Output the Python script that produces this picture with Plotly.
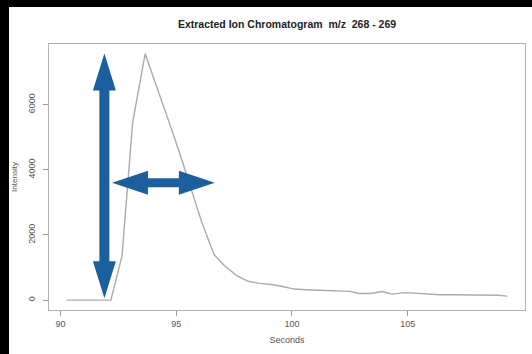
import plotly.graph_objects as go

# ---- data ----
seconds = [90.27, 92.18, 92.66, 93.12, 93.66, 94.2, 94.7, 95.2, 95.65, 96.1, 96.64,
           97.1, 97.6, 98.1, 98.6, 99.1, 99.6, 100.1, 100.6, 101.1, 101.6, 102.1,
           102.5, 102.9, 103.4, 103.9, 104.3, 104.9, 105.4, 105.9, 106.4, 106.9,
           107.4, 107.9, 108.4, 108.9, 109.3]
intensity = [0, 0, 1350, 5450, 7560, 6480, 5450, 4400, 3380, 2400, 1390,
             1050, 760, 580, 515, 480, 420, 340, 320, 305, 295, 285,
             270, 206, 206, 265, 185, 230, 210, 180, 165, 165,
             165, 160, 160, 150, 124]

x_ticks = [90, 95, 100, 105]
y_ticks = [0, 2000, 4000, 6000]

title_text = "Extracted Ion Chromatogram  m/z  268 - 269"
x_title = "Seconds"
y_title = "Intensity"

# annotation arrows (data units for ends)
v_arrow = dict(x0=91.9, y0=60, x1=91.9, y1=7570)
h_arrow = dict(x0=92.23, y0=3600, x1=96.67, y1=3600)

# ---- layout geometry ----
W, H = 532, 354
ML, MR, MT, MB = 49, 7, 44, 44
PW, PH = W - ML - MR, H - MT - MB
x_pad = 0.04 * (max(seconds) - min(seconds))
y_pad = 0.04 * (max(intensity) - min(intensity))
XR = [min(seconds) - x_pad, max(seconds) + x_pad]
YR = [min(intensity) - y_pad, max(intensity) + y_pad]

def to_px(x, y):
    return ((x - XR[0]) / (XR[1] - XR[0]) * PW, (y - YR[0]) / (YR[1] - YR[0]) * PH)

def to_data(px, py):
    return (XR[0] + px / PW * (XR[1] - XR[0]), YR[0] + py / PH * (YR[1] - YR[0]))

def double_arrow(a, head_len=37, head_half=11.5, shaft_half=5):
    p0 = to_px(a["x0"], a["y0"])
    p1 = to_px(a["x1"], a["y1"])
    dx, dy = p1[0] - p0[0], p1[1] - p0[1]
    L = (dx ** 2 + dy ** 2) ** 0.5
    ux, uy = dx / L, dy / L
    nx, ny = -uy, ux
    def pt(s, t):
        return to_data(p0[0] + ux * s + nx * t, p0[1] + uy * s + ny * t)
    pts = [pt(0, 0), pt(head_len, head_half), pt(head_len, shaft_half),
           pt(L - head_len, shaft_half), pt(L - head_len, head_half), pt(L, 0),
           pt(L - head_len, -head_half), pt(L - head_len, -shaft_half),
           pt(head_len, -shaft_half), pt(head_len, -head_half)]
    return "M " + " L ".join(f"{x:.5f},{y:.3f}" for x, y in pts) + " Z"

ARROW_COLOR = "#1c5f9f"
FONT = "Liberation Sans, Arial, sans-serif"

fig = go.Figure()
fig.add_trace(go.Scatter(x=seconds, y=intensity, mode="lines",
                         line=dict(color="#ababab", width=1.4), hoverinfo="skip"))

shapes = [
    dict(type="path", xref="x", yref="y", path=double_arrow(v_arrow, 37, 11.5, 5),
         fillcolor=ARROW_COLOR, line=dict(width=0), layer="above"),
    dict(type="path", xref="x", yref="y", path=double_arrow(h_arrow, 36, 12, 4.5),
         fillcolor=ARROW_COLOR, line=dict(width=0), layer="above"),
    # black frame of the photograph (top and left)
    dict(type="rect", xref="paper", yref="paper", x0=-ML / PW, x1=(9 - ML) / PW,
         y0=-MB / PH, y1=(H - MB) / PH, fillcolor="black", line=dict(width=0)),
    dict(type="rect", xref="paper", yref="paper", x0=-ML / PW, x1=1 + MR / PW,
         y0=(PH + MT - 7) / PH, y1=(H - MB) / PH, fillcolor="black", line=dict(width=0)),
]

axis_common = dict(showline=True, linecolor="#b3b3b3", linewidth=1.2, mirror=True,
                   ticks="outside", ticklen=5, tickcolor="#9a9a9a", tickwidth=1,
                   showgrid=False, zeroline=False, automargin=False,
                   tickfont=dict(family=FONT, size=9, color="#555"))

fig.update_layout(
    width=W, height=H,
    margin=dict(l=ML, r=MR, t=MT, b=MB, autoexpand=False),
    paper_bgcolor="white", plot_bgcolor="white",
    showlegend=False,
    shapes=shapes,
    title=dict(text=f"<b>{title_text}</b>", x=(287 - ML) / PW, xref="paper", xanchor="center",
               y=1 - 24 / H, yref="container", yanchor="middle",
               font=dict(family=FONT, size=10.5, color="#222")),
    xaxis=dict(range=XR, tickvals=x_ticks, ticktext=[str(v) for v in x_ticks],
               title=dict(text=x_title, standoff=8, font=dict(family=FONT, size=9, color="#555")),
               **axis_common),
    yaxis=dict(range=YR, tickvals=y_ticks, ticktext=[str(v) for v in y_ticks], tickangle=-90,
               ticklabelstandoff=4,
               title=dict(text=y_title, standoff=8, font=dict(family=FONT, size=8, color="#555")),
               **axis_common),
)

fig.write_html("out.html", post_script="document.body.style.margin='0';",
               config={"displayModeBar": False})
